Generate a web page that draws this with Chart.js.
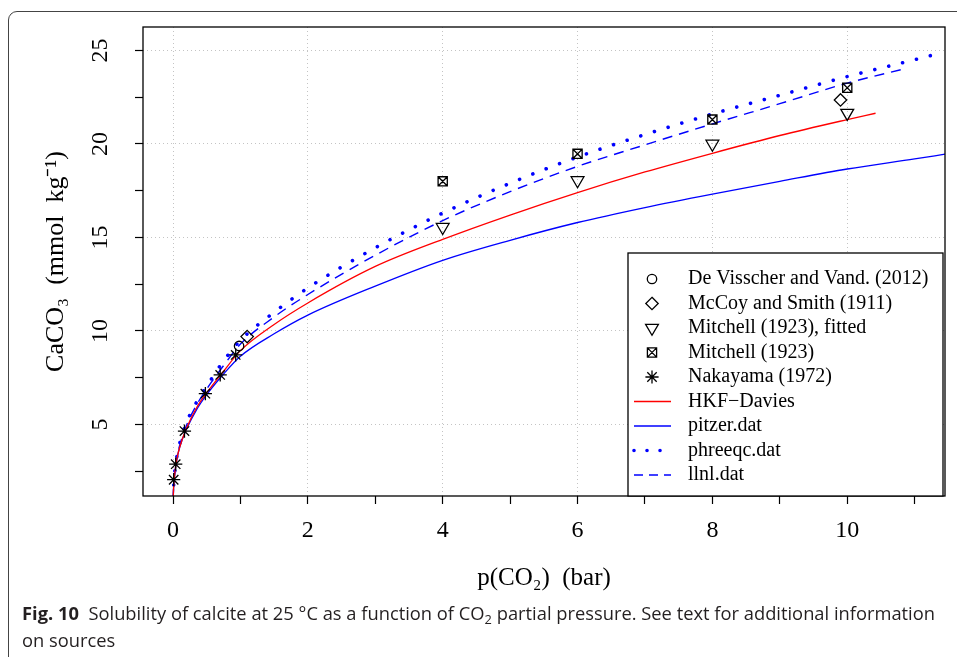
<!DOCTYPE html>
<html>
<head>
<meta charset="utf-8">
<script src="https://cdn.jsdelivr.net/npm/chart.js@4.4.0/dist/chart.umd.min.js"></script>
<style>
  html, body { margin: 0; padding: 0; background: #fff; }
  body { width: 957px; height: 657px; position: relative; overflow: hidden; }
  #frame { position: absolute; left: 8px; top: 11px; width: 1000px; height: 700px;
           border: 1.5px solid #444; border-radius: 9px; box-sizing: border-box; }
  #c { position: absolute; left: 0; top: 0; }
  #cap { position: absolute; left: 22px; top: 600px; font-family: 'Open Sans', sans-serif;
         font-size: 17.5px; color: #231f20; line-height: 27px; white-space: nowrap;
         transform-origin: 0 0; }
  #cap sub { font-size: 0.7em; line-height: 0; vertical-align: -0.3em; }
</style>
</head>
<body>
<div id="frame"></div>
<canvas id="c" width="957" height="657"></canvas>
<div id="cap">
  <div id="cap1"><b>Fig. 10</b>&nbsp; Solubility of calcite at 25 °C as a function of CO<sub>2</sub> partial pressure. See text for additional information</div>
  <div>on sources</div>
</div>
<script>
// measured points
const dvX = [0.98];
const dvY = [9.2];
const mccoyX = [1.1, 9.9];
const mccoyY = [9.7, 22.35];
const mitFitX = [4, 6, 8, 10];
const mitFitY = [15.55, 18.05, 20.0, 21.65];
const mitX = [4, 6, 8, 10];
const mitY = [18.0, 19.47, 21.3, 23.0];
const nakX = [0.01, 0.04, 0.17, 0.48, 0.7, 0.93];
const nakY = [2.05, 2.88, 4.65, 6.65, 7.65, 8.72];

// model curves
const hkfX = [0.002, 0.01, 0.03, 0.06, 0.1, 0.2, 0.35, 0.5, 0.75, 1, 1.5, 2, 3, 4, 5, 6, 7, 8, 9, 10, 10.42];
const hkfY = [1.0, 1.7, 2.5, 3.2, 3.8, 4.8, 5.9, 6.7, 7.85, 8.95, 10.35, 11.5, 13.45, 14.9, 16.2, 17.4, 18.5, 19.5, 20.45, 21.3, 21.64];
const pitzerX = [0.002, 0.01, 0.03, 0.06, 0.1, 0.2, 0.35, 0.5, 0.75, 1, 1.5, 2, 3, 4, 5, 6, 7, 8, 9, 10, 11, 11.45];
const pitzerY = [1.0, 1.7, 2.5, 3.2, 3.8, 4.75, 5.8, 6.6, 7.7, 8.65, 9.85, 10.85, 12.4, 13.78, 14.85, 15.8, 16.6, 17.32, 18.0, 18.66, 19.2, 19.45];
const phreeqcX = [0.002, 0.01, 0.03, 0.06, 0.1, 0.2, 0.35, 0.5, 0.75, 1, 1.5, 2, 3, 4, 5, 6, 7, 8, 9, 10, 11, 11.3];
const phreeqcY = [1.0, 1.75, 2.6, 3.35, 4.0, 5.1, 6.2, 7.05, 8.4, 9.5, 11.0, 12.3, 14.45, 16.3, 17.9, 19.3, 20.5, 21.6, 22.6, 23.6, 24.5, 24.78];
const llnlX = [0.002, 0.01, 0.03, 0.06, 0.1, 0.2, 0.35, 0.5, 0.75, 1, 1.5, 2, 3, 4, 5, 6, 7, 8, 9, 10, 10.83];
const llnlY = [1.0, 1.72, 2.55, 3.28, 3.9, 4.95, 6.05, 6.9, 8.15, 9.3, 10.75, 11.95, 14.05, 15.9, 17.45, 18.8, 19.95, 21.07, 22.15, 23.25, 24.0];

const xTicksShown = [0, 2, 4, 6, 8, 10];
const yTicksShown = [5, 10, 15, 20, 25];

const serif = "'Liberation Serif', 'Times New Roman', serif";

function xy(xs, ys) { return xs.map((x, i) => ({ x: x, y: ys[i] })); }

// R-like plotting symbols, drawn as vectors
function drawSymbol(g, sym, x, y) {
  g.save();
  g.strokeStyle = '#000';
  g.lineWidth = 1.3;
  g.translate(x, y);
  g.beginPath();
  if (sym === 'circle') {
    g.arc(0, 0, 4.7, 0, 2 * Math.PI);
  } else if (sym === 'diamond') {
    g.moveTo(0, -6.2); g.lineTo(6.2, 0); g.lineTo(0, 6.2); g.lineTo(-6.2, 0); g.closePath();
  } else if (sym === 'tri') {
    g.moveTo(-6.4, -3.7); g.lineTo(6.4, -3.7); g.lineTo(0, 7.3); g.closePath();
  } else if (sym === 'boxx') {
    g.rect(-4.6, -4.6, 9.2, 9.2);
    g.moveTo(-4.6, -4.6); g.lineTo(4.6, 4.6);
    g.moveTo(4.6, -4.6); g.lineTo(-4.6, 4.6);
  } else if (sym === 'star') {
    g.moveTo(-6.6, 0); g.lineTo(6.6, 0);
    g.moveTo(0, -6.6); g.lineTo(0, 6.6);
    g.moveTo(-4.7, -4.7); g.lineTo(4.7, 4.7);
    g.moveTo(4.7, -4.7); g.lineTo(-4.7, 4.7);
  }
  g.stroke();
  g.restore();
}

function pts(label, xs, ys, sym) {
  return { label: label, data: xy(xs, ys), showLine: false, pointRadius: 0, sym: sym, kind: 'point' };
}
function curve(label, xs, ys, color, width, dash, cap, legendDash) {
  return { label: label, data: xy(xs, ys), showLine: true, pointRadius: 0, borderColor: color,
           borderWidth: width, borderDash: dash, borderCapStyle: cap || 'butt', legendDash: legendDash || [],
           cubicInterpolationMode: 'monotone', fill: false, kind: 'line' };
}

const symbolsBoxLegend = {
  id: 'symbolsBoxLegend',
  afterDatasetsDraw(chart) {
    const ctx = chart.ctx, a = chart.chartArea;
    ctx.save();
    ctx.beginPath();
    ctx.rect(a.left, a.top, a.right - a.left, a.bottom - a.top);
    ctx.clip();
    chart.data.datasets.forEach((ds, i) => {
      if (ds.kind !== 'point') return;
      chart.getDatasetMeta(i).data.forEach(el => drawSymbol(ctx, ds.sym, el.x, el.y));
    });
    ctx.restore();
  },
  afterDraw(chart) {
    const ctx = chart.ctx, a = chart.chartArea;
    ctx.save();
    ctx.strokeStyle = '#000';
    ctx.lineWidth = 1.3;
    ctx.strokeRect(a.left, a.top, a.right - a.left, a.bottom - a.top);

    const lx = 628, ly = 253, rx = a.right - 2, by = a.bottom;
    ctx.fillStyle = '#fff';
    ctx.fillRect(lx, ly, rx - lx, by - ly);
    ctx.strokeRect(lx, ly, rx - lx, by - ly);

    ctx.font = '20px ' + serif;
    ctx.textBaseline = 'middle';
    ctx.textAlign = 'left';
    chart.data.datasets.forEach((ds, i) => {
      const y = ly + 26 + i * 24.5;
      if (ds.kind === 'point') {
        drawSymbol(ctx, ds.sym, 652, y);
      } else {
        ctx.save();
        ctx.strokeStyle = ds.borderColor;
        ctx.lineWidth = ds.borderWidth;
        ctx.lineCap = ds.borderCapStyle;
        ctx.setLineDash(ds.legendDash);
        ctx.beginPath();
        ctx.moveTo(634, y);
        ctx.lineTo(671, y);
        ctx.stroke();
        ctx.restore();
      }
      ctx.fillStyle = '#000';
      ctx.fillText(ds.label, 688, y);
    });
    ctx.restore();
  }
};

new Chart(document.getElementById('c'), {
  type: 'scatter',
  data: {
    datasets: [
      pts('De Visscher and Vand. (2012)', dvX, dvY, 'circle'),
      pts('McCoy and Smith (1911)', mccoyX, mccoyY, 'diamond'),
      pts('Mitchell (1923), fitted', mitFitX, mitFitY, 'tri'),
      pts('Mitchell (1923)', mitX, mitY, 'boxx'),
      pts('Nakayama (1972)', nakX, nakY, 'star'),
      curve('HKF\u2212Davies', hkfX, hkfY, '#ff0000', 1.3, []),
      curve('pitzer.dat', pitzerX, pitzerY, '#0000ff', 1.3, []),
      curve('phreeqc.dat', phreeqcX, phreeqcY, '#0000ff', 3.6, [0.01, 14.3], 'round', [0.01, 13]),
      curve('llnl.dat', llnlX, llnlY, '#0000ff', 1.4, [10, 7], 'butt', [9, 6])
    ]
  },
  options: {
    responsive: false,
    animation: false,
    devicePixelRatio: 1,
    layout: { padding: { left: 0, right: 12, top: 27, bottom: 0 } },
    plugins: { legend: { display: false }, tooltip: { enabled: false } },
    scales: {
      x: {
        type: 'linear', min: -0.445, max: 11.45,
        afterFit(s) { s.height = 161; s.paddingLeft = 0; s.paddingRight = 0; },
        border: { display: false, dash: [1, 3] },
        grid: {
          color: c => (c.tick && xTicksShown.includes(c.tick.value)) ? '#c4c4c4' : 'rgba(0,0,0,0)',
          lineWidth: 1, tickColor: '#000', tickLength: 8, tickWidth: 1.2, tickBorderDash: []
        },
        ticks: {
          stepSize: 1, maxTicksLimit: 20, includeBounds: false, autoSkip: false,
          maxRotation: 0, padding: 12, color: '#000',
          font: { family: serif, size: 24 },
          callback: v => xTicksShown.includes(v) ? String(v) : ''
        },
        title: { display: true, text: 'p(CO\u2082)  (bar)', color: '#000',
                 font: { family: serif, size: 25 }, padding: { top: 0, bottom: 64 } }
      },
      y: {
        type: 'linear', min: 1.18, max: 26.25,
        afterFit(s) { s.width = 143; s.paddingTop = 0; s.paddingBottom = 0; },
        border: { display: false, dash: [1, 3] },
        grid: {
          color: c => (c.tick && yTicksShown.includes(c.tick.value)) ? '#c4c4c4' : 'rgba(0,0,0,0)',
          lineWidth: 1, tickColor: '#000', tickLength: 8, tickWidth: 1.2, tickBorderDash: []
        },
        ticks: {
          stepSize: 2.5, maxTicksLimit: 20, includeBounds: false, autoSkip: false,
          minRotation: 90, maxRotation: 90, crossAlign: 'center', padding: 22, color: '#000',
          font: { family: serif, size: 24 },
          callback: v => yTicksShown.includes(v) ? String(v) : ''
        },
        title: { display: true, text: 'CaCO\u2083  (mmol  kg\u207B\u00B9)', color: '#000',
                 font: { family: serif, size: 26 }, padding: { top: 41, bottom: 0 } }
      }
    }
  },
  plugins: [symbolsBoxLegend]
});

// fit caption width to the figure text block
const cap = document.getElementById('cap');
const cap1 = document.getElementById('cap1');
const w = cap1.getBoundingClientRect().width;
cap.style.transform = 'scaleX(' + (913 / w) + ')';
</script>
</body>
</html>
